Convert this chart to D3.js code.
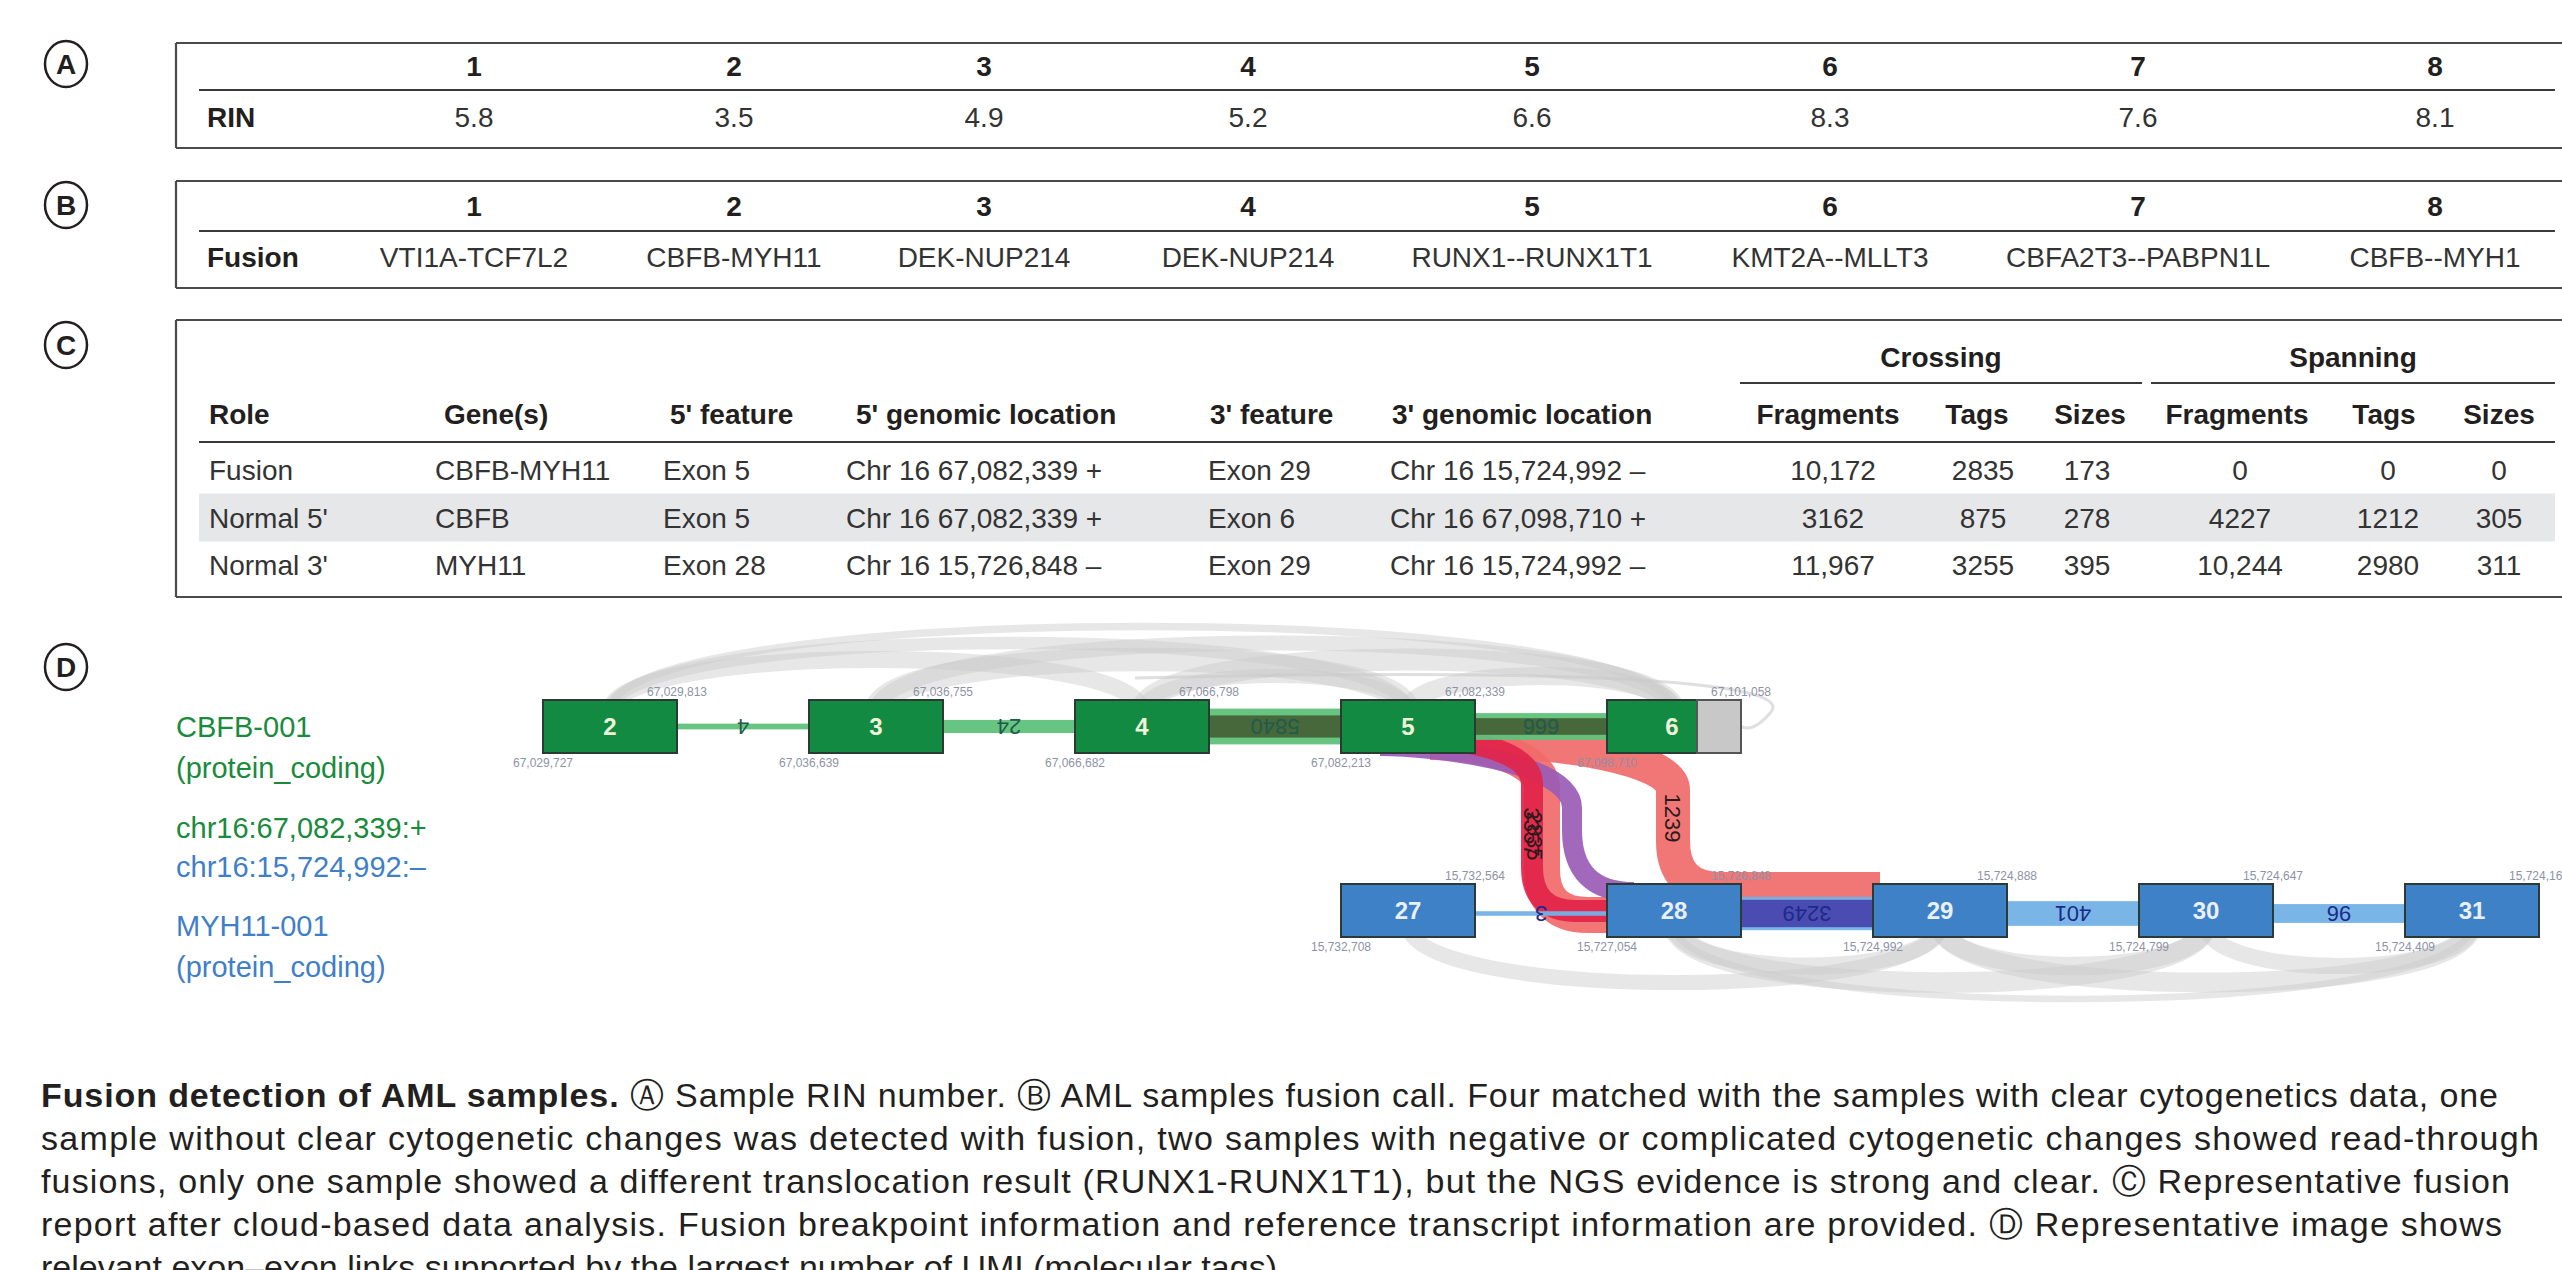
<!DOCTYPE html>
<html>
<head>
<meta charset="utf-8">
<script src="https://cdn.jsdelivr.net/npm/d3@7"></script>
<style>
  body { margin: 0; background: #fff; }
  svg { display: block; font-family: "Liberation Sans", Arial, sans-serif; }
</style>
</head>
<body>
<script>
// ---- data ----
var samples = ["1", "2", "3", "4", "5", "6", "7", "8"];
var rinValues = [5.8, 3.5, 4.9, 5.2, 6.6, 8.3, 7.6, 8.1];
var fusionCalls = ["VTI1A-TCF7L2", "CBFB-MYH11", "DEK-NUP214", "DEK-NUP214",
                   "RUNX1--RUNX1T1", "KMT2A--MLLT3", "CBFA2T3--PABPN1L", "CBFB--MYH1"];

var reportGroups = ["Crossing", "Spanning"];
var reportColumns = ["Role", "Gene(s)", "5' feature", "5' genomic location", "3' feature",
                     "3' genomic location", "Fragments", "Tags", "Sizes", "Fragments", "Tags", "Sizes"];
var reportRoles = ["Fusion", "Normal 5'", "Normal 3'"];
var reportGenes = ["CBFB-MYH11", "CBFB", "MYH11"];
var report5Feature = ["Exon 5", "Exon 5", "Exon 28"];
var report5Location = ["Chr 16 67,082,339 +", "Chr 16 67,082,339 +", "Chr 16 15,726,848 –"];
var report3Feature = ["Exon 29", "Exon 6", "Exon 29"];
var report3Location = ["Chr 16 15,724,992 –", "Chr 16 67,098,710 +", "Chr 16 15,724,992 –"];
var crossingFragments = [10172, 3162, 11967];
var crossingTags = [2835, 875, 3255];
var crossingSizes = [173, 278, 395];
var spanningFragments = [0, 4227, 10244];
var spanningTags = [0, 1212, 2980];
var spanningSizes = [0, 305, 311];

var cbfbExons = [2, 3, 4, 5, 6];
var cbfbStarts = ["67,029,727", "67,036,639", "67,066,682", "67,082,213", "67,098,710"];
var cbfbEnds = ["67,029,813", "67,036,755", "67,066,798", "67,082,339", "67,101,058"];
var myh11Exons = [27, 28, 29, 30, 31];
var myh11Starts = ["15,732,708", "15,727,054", "15,724,992", "15,724,799", "15,724,409"];
var myh11Ends = ["15,732,564", "15,726,848", "15,724,888", "15,724,647", "15,724,168"];

// [from exon, to exon, tags]
var cbfbLinks = [[2, 3, 4], [3, 4, 24], [4, 5, 5840], [5, 6, 666]];
var myh11Links = [[27, 28, 3], [28, 29, 3249], [29, 30, 401], [30, 31, 96]];
var cbfbSkips = [[2, 4, 60], [2, 5, 20], [3, 5, 300], [3, 6, 40], [4, 6, 200], [2, 6, 6], [4, 5, 30], [5, 6, 80]];
var myh11Skips = [[27, 29, 40], [28, 30, 150], [29, 31, 120], [28, 29, 60], [29, 30, 90], [30, 31, 50], [28, 31, 5]];

var legendLines = ["CBFB-001", "(protein_coding)", "chr16:67,082,339:+", "chr16:15,724,992:–", "MYH11-001", "(protein_coding)"];

var captionLines = [
  " Ⓐ Sample RIN number. Ⓑ AML samples fusion call. Four matched with the samples with clear cytogenetics data, one",
  "sample without clear cytogenetic changes was detected with fusion, two samples with negative or complicated cytogenetic changes showed read-through",
  "fusions, only one sample showed a different translocation result (RUNX1-RUNX1T1), but the NGS evidence is strong and clear. Ⓒ Representative fusion",
  "report after cloud-based data analysis. Fusion breakpoint information and reference transcript information are provided. Ⓓ Representative image shows",
  "relevant exon–exon links supported by the largest number of UMI (molecular tags)."
];

// ---- layout ----
var W = 2562, H = 1270;
var ink = "#231f20";
var green = "#138a41", blue = "#3f81c6";

var svg = d3.select("body").append("svg")
  .attr("width", W)
  .attr("height", H);

// Panel letters
var panelLetters = ["A", "B", "C", "D"];
var panelY = [64, 205, 345, 667];
var letters = svg.selectAll(".panelLetter")
  .data(panelLetters)
  .enter().append("g")
  .attr("transform", function(d, i) { return "translate(66," + panelY[i] + ")"; });
letters.append("ellipse")
  .attr("rx", 21).attr("ry", 23)
  .attr("fill", "none").attr("stroke", ink).attr("stroke-width", 2.5);
letters.append("text")
  .attr("text-anchor", "middle").attr("dy", "0.36em")
  .attr("font-size", 28).attr("font-weight", "bold").attr("fill", ink)
  .text(function(d) { return d; });

// table frame: left, top and bottom rules; right side runs off the page
function frame(top, bottom) {
  var g = svg.append("g").attr("stroke", "#4a4a4a").attr("stroke-width", 2.2).attr("fill", "none");
  g.append("line").attr("x1", 176).attr("x2", W + 5).attr("y1", top).attr("y2", top);
  g.append("line").attr("x1", 176).attr("x2", W + 5).attr("y1", bottom).attr("y2", bottom);
  g.append("line").attr("x1", 176).attr("x2", 176).attr("y1", top).attr("y2", bottom);
}
function rule(y, x1, x2) {
  svg.append("line").attr("x1", x1).attr("x2", x2).attr("y1", y).attr("y2", y)
    .attr("stroke", "#3a3a3a").attr("stroke-width", 2);
}

var sampleX = d3.scaleOrdinal()
  .domain(samples)
  .range([474, 734, 984, 1248, 1532, 1830, 2138, 2435]);

function sampleTable(top, headY, lineY, rowY, bottom, label, values) {
  frame(top, bottom);
  rule(lineY, 199, 2555);
  svg.append("g").selectAll("text")
    .data(samples).enter().append("text")
    .attr("x", function(d) { return sampleX(d); })
    .attr("y", headY).attr("dy", "0.36em")
    .attr("text-anchor", "middle").attr("font-size", 28).attr("font-weight", "bold").attr("fill", ink)
    .text(function(d) { return d; });
  svg.append("text")
    .attr("x", 207).attr("y", rowY).attr("dy", "0.36em")
    .attr("font-size", 28).attr("font-weight", "bold").attr("fill", ink)
    .text(label);
  svg.append("g").selectAll("text")
    .data(values).enter().append("text")
    .attr("x", function(d, i) { return sampleX(samples[i]); })
    .attr("y", rowY).attr("dy", "0.36em")
    .attr("text-anchor", "middle").attr("font-size", 28).attr("fill", "#333")
    .text(function(d) { return d; });
}

// Panel A
sampleTable(43, 66, 90, 117, 148, "RIN", rinValues.map(d3.format(".1f")));
// Panel B
sampleTable(181, 206, 231, 257, 288, "Fusion", fusionCalls);

// Panel C
var cTop = 320, cBottom = 597;
frame(cTop, cBottom);
var rowY = d3.scalePoint().domain(reportRoles).range([470, 565]);
svg.append("rect")
  .attr("x", 199).attr("width", 2555 - 199)
  .attr("y", rowY(reportRoles[1]) - 24).attr("height", 48)
  .attr("fill", "#e6e7e9");
rule(442, 199, 2555);
rule(383, 1740, 2142);
rule(383, 2151, 2555);
svg.append("g").selectAll("text")
  .data(reportGroups).enter().append("text")
  .attr("x", function(d, i) { return [1941, 2353][i]; })
  .attr("y", 357).attr("dy", "0.36em")
  .attr("text-anchor", "middle").attr("font-size", 28).attr("font-weight", "bold").attr("fill", ink)
  .text(function(d) { return d; });

var headX = [209, 444, 670, 856, 1210, 1392, 1828, 1977, 2090, 2237, 2384, 2499];
var bodyX = [209, 435, 663, 846, 1208, 1390, 1833, 1983, 2087, 2240, 2388, 2499];
function anchor(i) { return i < 6 ? "start" : "middle"; }

svg.append("g").selectAll("text")
  .data(reportColumns).enter().append("text")
  .attr("x", function(d, i) { return headX[i]; })
  .attr("y", 414).attr("dy", "0.36em")
  .attr("text-anchor", function(d, i) { return anchor(i); })
  .attr("font-size", 28).attr("font-weight", "bold").attr("fill", ink)
  .text(function(d) { return d; });

function num(n) { return n >= 10000 ? d3.format(",")(n) : String(n); }
var reportCells = reportRoles.map(function(role, r) {
  return [role, reportGenes[r], report5Feature[r], report5Location[r], report3Feature[r], report3Location[r],
          num(crossingFragments[r]), num(crossingTags[r]), num(crossingSizes[r]),
          num(spanningFragments[r]), num(spanningTags[r]), num(spanningSizes[r])];
});
reportCells.forEach(function(cells, r) {
  svg.append("g").selectAll("text")
    .data(cells).enter().append("text")
    .attr("x", function(d, i) { return bodyX[i]; })
    .attr("y", rowY(reportRoles[r])).attr("dy", "0.36em")
    .attr("text-anchor", function(d, i) { return anchor(i); })
    .attr("font-size", 28).attr("fill", "#333")
    .text(function(d) { return d; });
});

// Panel D legend text
svg.append("g").selectAll("text")
  .data(legendLines).enter().append("text")
  .attr("x", 176)
  .attr("y", function(d, i) { return [727, 768, 828, 867, 926, 967][i]; })
  .attr("dy", "0.36em")
  .attr("font-size", 29)
  .attr("fill", function(d, i) { return i < 3 ? "#1a8a3c" : "#3f7fc9"; })
  .text(function(d) { return d; });

// Panel D exon diagram
var slot = d3.scaleLinear().domain([0, 7]).range([543, 543 + 7 * 266]);
var exonW = 134, exonH = 53;
var topY = 700, botY = 884;
function exonX(e) { return e >= 27 ? slot(e - 24) : slot(e - 2); }
function exonRowY(e) { return e >= 27 ? botY : topY; }
var thick = d3.scaleLog().domain([1, 10000]).range([0, 38]);

var diagram = svg.append("g");

// grey skip-exon arcs
function arcPath(d, below) {
  var x1 = exonX(d[0]) + exonW / 2, x2 = exonX(d[1]) + exonW / 2;
  var span = d[1] - d[0];
  var h = below ? 34 + 22 * span : 26 + 22 * span;
  var y0 = below ? botY + 40 : topY + 12;
  var s = below ? 1 : -1;
  return "M" + x1 + "," + y0 + "C" + x1 + "," + (y0 + s * h) + " " + x2 + "," + (y0 + s * h) + " " + x2 + "," + y0;
}
diagram.append("g").selectAll("path")
  .data(cbfbSkips).enter().append("path")
  .attr("d", function(d) { return arcPath(d, false); })
  .attr("fill", "none").attr("stroke", "#c9c9c9").attr("stroke-opacity", 0.45)
  .attr("stroke-width", function(d) { return Math.max(2, thick(d[2])); });
diagram.append("g").selectAll("path")
  .data(myh11Skips).enter().append("path")
  .attr("d", function(d) { return arcPath(d, true); })
  .attr("fill", "none").attr("stroke", "#c9c9c9").attr("stroke-opacity", 0.45)
  .attr("stroke-width", function(d) { return Math.max(2, thick(d[2])); });
// thin loop past exon 6
diagram.append("path")
  .attr("d", "M" + (exonX(4) + 60) + "," + (topY - 22) + "C" + (exonX(6) + 60) + "," + (topY - 34) + " " +
        (exonX(6) + exonW + 50) + "," + (topY - 12) + " " + (exonX(6) + exonW + 30) + "," + (topY + 12) +
        "S" + (exonX(6) + exonW) + "," + (topY + 28) + " " + (exonX(6) + exonW - 10) + "," + (topY + 20))
  .attr("fill", "none").attr("stroke", "#c9c9c9").attr("stroke-opacity", 0.6).attr("stroke-width", 3);

// fusion ribbons: leave exon 5 from under its lower edge, drop down, run into the MYH11 row
function ribbon(sx, sy, vx, ey, ex, r) {
  return "M" + sx + "," + sy +
         "C" + (sx + 50) + "," + sy + " " + vx + "," + (sy + 15) + " " + vx + "," + (sy + r) +
         "L" + vx + "," + (ey - r) +
         "Q" + vx + "," + ey + " " + (vx + r) + "," + ey +
         "L" + ex + "," + ey;
}
var fusionRibbons = [
  { d: ribbon(1500, 742, 1673, 889, 1880, 48), color: "#f06a6a", w: 34 },
  { d: ribbon(1430, 742, 1542, 915, 1612, 46), color: "#f26a6a", w: 36 },
  { d: ribbon(1380, 746, 1572, 892, 1612, 62), color: "#9a5bb5", w: 20 },
  { d: ribbon(1430, 740, 1532, 911, 1612, 44), color: "#e2244a", w: 22 }
];
diagram.append("g").selectAll("path")
  .data(fusionRibbons).enter().append("path")
  .attr("d", function(d) { return d.d; })
  .attr("fill", "none")
  .attr("stroke", function(d) { return d.color; })
  .attr("stroke-width", function(d) { return d.w; })
  .attr("stroke-opacity", 0.92);

// neighbouring exon links
function linkBands(links, yMid, outer, inner, limit, innerFrac) {
  var g = diagram.append("g");
  links.forEach(function(d) {
    var x1 = exonX(d[0]) + exonW - 2, x2 = exonX(d[1]) + 2, w = thick(d[2]);
    g.append("rect").attr("x", x1).attr("width", x2 - x1)
      .attr("y", yMid - w / 2).attr("height", w).attr("fill", outer).attr("fill-opacity", 0.95);
    if (d[2] > limit) {
      g.append("rect").attr("x", x1).attr("width", x2 - x1)
        .attr("y", yMid - w / 2 + w * (1 - innerFrac) / 2).attr("height", w * innerFrac).attr("fill", inner);
    }
  });
}
linkBands(cbfbLinks, topY + exonH / 2, "#5fc27a", "#46683a", 500, 0.62);
linkBands(myh11Links, botY + exonH / 2 + 3, "#72b2e6", "#4b4cb2", 1000, 0.82);

// exon boxes
function exonRow(exons, fill) {
  var g = diagram.append("g").selectAll("g")
    .data(exons).enter().append("g")
    .attr("transform", function(d) { return "translate(" + exonX(d) + "," + exonRowY(d) + ")"; });
  g.append("rect")
    .attr("width", exonW).attr("height", exonH)
    .attr("fill", fill).attr("stroke", "#2b3a33").attr("stroke-width", 2);
  return g;
}
var cbfbG = exonRow(cbfbExons, green);
// UTR part of last CBFB exon
cbfbG.filter(function(d) { return d === 6; }).append("rect")
  .attr("x", 90).attr("width", exonW - 90).attr("height", exonH)
  .attr("fill", "#c8c8c8").attr("stroke", "#555").attr("stroke-width", 2);
cbfbG.append("text")
  .attr("x", function(d) { return d === 6 ? 65 : exonW / 2; })
  .attr("y", exonH / 2).attr("dy", "0.36em")
  .attr("text-anchor", "middle").attr("font-size", 24).attr("font-weight", "bold")
  .attr("fill", "#eef3da")
  .text(function(d) { return d; });
var myhG = exonRow(myh11Exons, blue);
myhG.append("text")
  .attr("x", exonW / 2).attr("y", exonH / 2).attr("dy", "0.36em")
  .attr("text-anchor", "middle").attr("font-size", 24).attr("font-weight", "bold")
  .attr("fill", "#e9f0fa")
  .text(function(d) { return d; });

// coordinate labels
function coordLabels(exons, starts, ends) {
  var g = diagram.append("g").attr("font-size", 12).attr("fill", "#8d92a6").attr("text-anchor", "middle");
  exons.forEach(function(e, i) {
    g.append("text").attr("x", exonX(e) + exonW).attr("y", exonRowY(e) - 4).text(ends[i]);
    g.append("text").attr("x", exonX(e)).attr("y", exonRowY(e) + exonH + 14).text(starts[i]);
  });
}
coordLabels(cbfbExons, cbfbStarts, cbfbEnds);
coordLabels(myh11Exons, myh11Starts, myh11Ends);

// link labels (drawn upside down as in the viewer)
function linkLabels(links, yMid, color) {
  diagram.append("g").selectAll("text")
    .data(links).enter().append("text")
    .attr("transform", function(d) {
      var cx = (exonX(d[0]) + exonW + exonX(d[1])) / 2;
      return "translate(" + cx + "," + yMid + ") rotate(180)";
    })
    .attr("text-anchor", "middle").attr("dy", "0.36em")
    .attr("font-size", 22).attr("fill", color)
    .text(function(d) { return d[2]; });
}
linkLabels(cbfbLinks, topY + exonH / 2, "#1f5b4c");
linkLabels(myh11Links, botY + exonH / 2 + 3, "#1d2a8a");

// ribbon labels
var ribbonLabels = [[1673, 818, "1239"], [1532, 832, "3357"], [1535, 836, "2835"]];
diagram.append("g").selectAll("text")
  .data(ribbonLabels).enter().append("text")
  .attr("transform", function(d) { return "translate(" + d[0] + "," + d[1] + ") rotate(90)"; })
  .attr("text-anchor", "middle").attr("dy", "0.36em")
  .attr("font-size", 22).attr("fill", "#2a1a1a")
  .text(function(d) { return d[2]; });

// Caption
var captionY = [1095, 1138, 1181, 1224, 1267];
var captionEnd = [2498, 2539, 2510, 2502, null];
var cap = svg.append("g").attr("font-size", 34).attr("fill", ink);
captionLines.forEach(function(line, i) {
  var t = cap.append("text").attr("x", 41).attr("y", captionY[i]).attr("dy", "0.36em");
  if (i === 0) {
    t.append("tspan").attr("font-weight", "bold").text("Fusion detection of AML samples.");
  }
  t.append("tspan").text(line);
  if (captionEnd[i]) {
    t.attr("textLength", captionEnd[i] - 41).attr("lengthAdjust", "spacing");
  }
});
</script>
</body>
</html>
